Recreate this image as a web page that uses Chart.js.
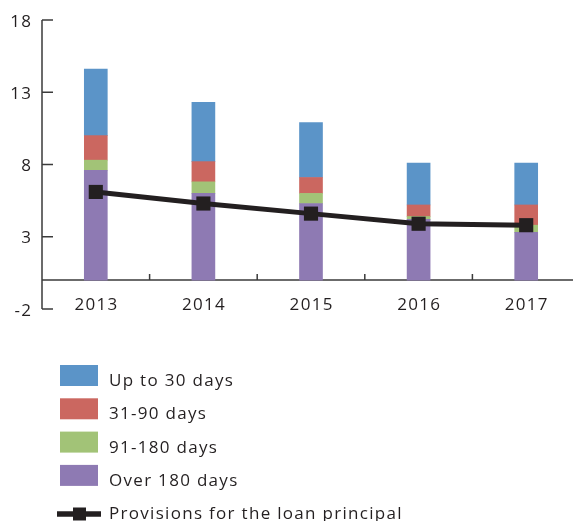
<!DOCTYPE html>
<html>
<head>
<meta charset="utf-8">
<script src="https://cdn.jsdelivr.net/npm/chart.js@4.4.0/dist/chart.umd.min.js"></script>
<style>
  html, body { margin: 0; padding: 0; background: #fff; overflow: hidden; }
  #wrap { width: 590px; height: 521px; }
</style>
</head>
<body>
<div id="wrap"><canvas id="loanChart" width="590" height="521"></canvas></div>
<script>
const years = ['2013', '2014', '2015', '2016', '2017'];
const upTo30 = [4.6, 4.1, 3.8, 2.9, 2.9];
const days31to90 = [1.7, 1.4, 1.1, 0.8, 1.4];
const days91to180 = [0.7, 0.8, 0.7, 0.2, 0.5];
const over180 = [7.6, 6.0, 5.3, 4.2, 3.3];
const provisions = [6.1, 5.3, 4.6, 3.9, 3.8];
const yTicks = [-2, 3, 8, 13, 18];

const axisColor = '#3b3b3b';
const textColor = '#231f20';
const labelFont = '17px "Open Sans"';
const spacing = 1.3;

// axes are drawn by hand: inward ticks on the value axis, category axis on zero
const axesPlugin = {
  id: 'handAxes',
  beforeDatasetsDraw(chart) {
    const { ctx, chartArea, scales: { x, y } } = chart;
    const zeroY = y.getPixelForValue(0);
    ctx.save();
    ctx.strokeStyle = axisColor;
    ctx.lineWidth = 1.5;
    ctx.beginPath();
    ctx.moveTo(chartArea.left, y.getPixelForValue(yTicks[yTicks.length - 1]));
    ctx.lineTo(chartArea.left, y.getPixelForValue(yTicks[0]));
    yTicks.forEach(v => {
      const py = y.getPixelForValue(v);
      ctx.moveTo(chartArea.left, py);
      ctx.lineTo(chartArea.left + 11, py);
    });
    ctx.moveTo(chartArea.left, zeroY);
    ctx.lineTo(chart.width, zeroY);
    for (let i = 1; i < years.length; i++) {
      const px = (x.getPixelForValue(i - 1) + x.getPixelForValue(i)) / 2;
      ctx.moveTo(px, zeroY);
      ctx.lineTo(px, zeroY - 6);
    }
    ctx.stroke();

    ctx.fillStyle = textColor;
    ctx.font = labelFont;
    ctx.letterSpacing = spacing + 'px';
    ctx.textBaseline = 'alphabetic';
    ctx.textAlign = 'right';
    yTicks.forEach(v => {
      ctx.fillText(String(v), chartArea.left - 11 + spacing, y.getPixelForValue(v) + 6.5);
    });
    ctx.textAlign = 'center';
    years.forEach((yr, i) => {
      ctx.fillText(yr, x.getPixelForValue(i) + spacing / 2, zeroY + 30);
    });
    ctx.restore();
  }
};

// vertical legend under the plot
const legendPlugin = {
  id: 'stackLegend',
  afterDraw(chart) {
    const { ctx } = chart;
    const bars = chart.data.datasets.filter(d => d.type === 'bar').slice().reverse();
    const line = chart.data.datasets.find(d => d.type === 'line');
    ctx.save();
    ctx.font = labelFont;
    ctx.letterSpacing = spacing + 'px';
    ctx.textBaseline = 'alphabetic';
    ctx.textAlign = 'left';
    bars.forEach((d, i) => {
      const top = 365 + i * 33.3;
      ctx.fillStyle = d.backgroundColor;
      ctx.fillRect(60, top, 38, 21);
      ctx.fillStyle = textColor;
      ctx.fillText(d.label, 109, top + 21);
    });
    const ly = 514;
    ctx.strokeStyle = line.borderColor;
    ctx.lineWidth = 5.5;
    ctx.beginPath();
    ctx.moveTo(57, ly);
    ctx.lineTo(101, ly);
    ctx.stroke();
    ctx.fillStyle = line.borderColor;
    ctx.fillRect(73, ly - 6.5, 13, 13);
    ctx.fillStyle = textColor;
    ctx.fillText(line.label, 109, ly + 5);
    ctx.restore();
  }
};

new Chart(document.getElementById('loanChart'), {
  data: {
    labels: years,
    datasets: [
      { type: 'line', label: 'Provisions for the loan principal', data: provisions, stack: 'prov', order: 0,
        borderColor: '#231f20', backgroundColor: '#231f20', borderWidth: 5, tension: 0,
        pointStyle: 'rect', pointRadius: 10, pointBorderWidth: 0, pointBackgroundColor: '#231f20' },
      { type: 'bar', label: 'Over 180 days', data: over180, backgroundColor: '#8e7ab3', stack: 'npl', order: 1 },
      { type: 'bar', label: '91-180 days', data: days91to180, backgroundColor: '#a2c377', stack: 'npl', order: 1 },
      { type: 'bar', label: '31-90 days', data: days31to90, backgroundColor: '#cb6760', stack: 'npl', order: 1 },
      { type: 'bar', label: 'Up to 30 days', data: upTo30, backgroundColor: '#5b94c8', stack: 'npl', order: 1 }
    ]
  },
  options: {
    responsive: false,
    animation: false,
    layout: { padding: { left: 42, right: 4.5, top: 20, bottom: 212 } },
    datasets: { bar: { barThickness: 23 } },
    plugins: { legend: { display: false }, tooltip: { enabled: false } },
    scales: {
      x: { display: false, stacked: true },
      y: {
        display: false, stacked: true, min: -2, max: 18,
        afterBuildTicks: axis => { axis.ticks = yTicks.map(v => ({ value: v })); }
      }
    }
  },
  plugins: [axesPlugin, legendPlugin]
});
</script>
</body>
</html>
